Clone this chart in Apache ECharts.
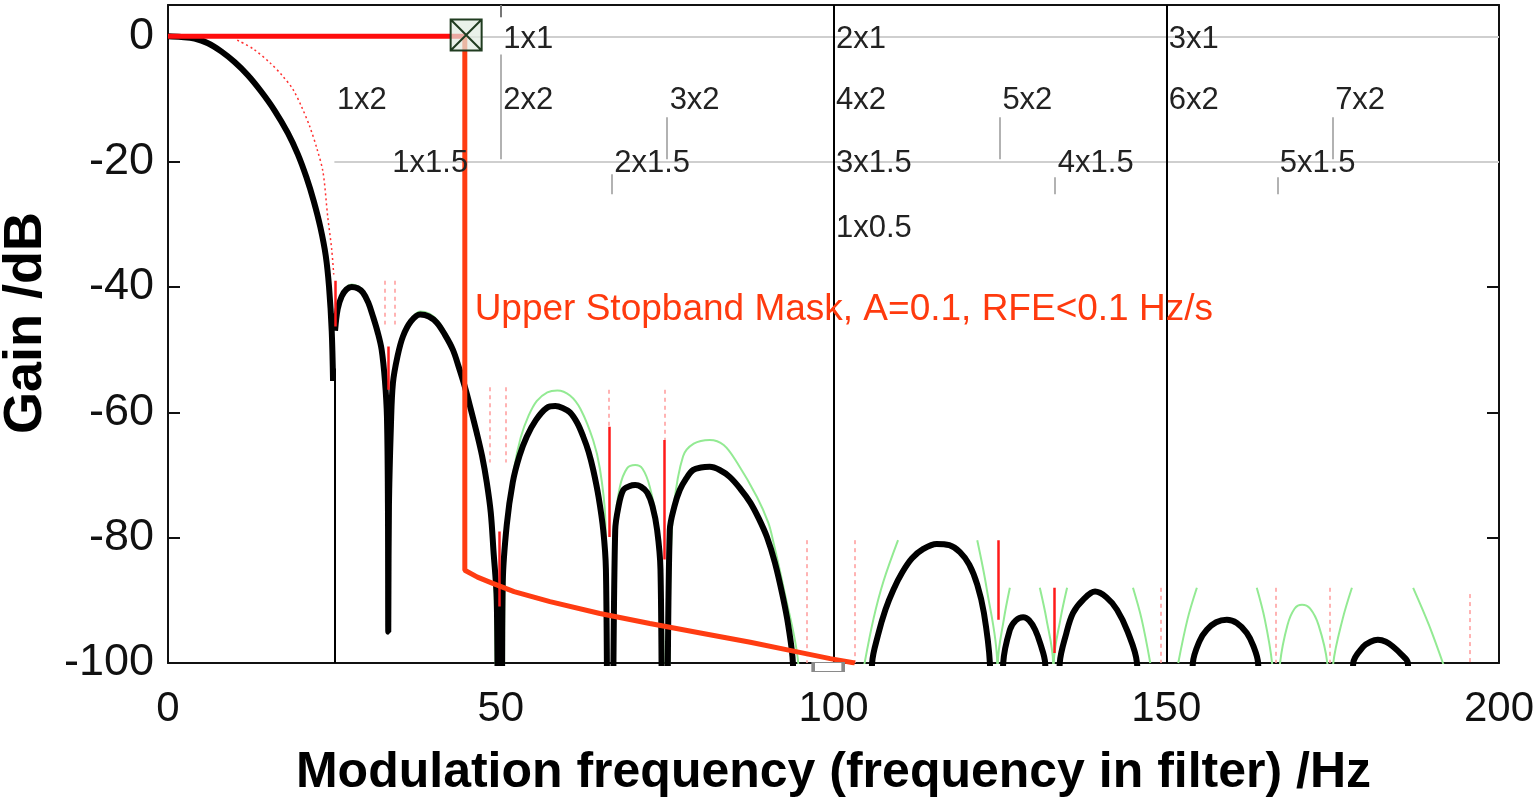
<!DOCTYPE html>
<html>
<head>
<meta charset="utf-8">
<title>Upper stopband mask</title>
<script src="https://cdn.jsdelivr.net/npm/echarts@6/dist/echarts.min.js"></script>
<style>
html, body { margin: 0; padding: 0; background: #fff; }
#chart { width: 1538px; height: 801px; }
</style>
</head>
<body>
<div id="chart"></div>
<script>
// [Hz, dB]; null = gap in the trace
const filterGain = [
  [0, 0], [2, -0.1], [4, -0.35], [6, -1.1], [8, -2.4], [10, -4.1], [12, -6.2], [14, -8.8], [16, -11.8],
  [18, -15.4], [19.5, -18.8], [20.8, -22.5], [21.9, -26.3], [22.9, -30.5], [23.7, -35], [24.2, -40],
  [24.6, -47], [24.8, -55],
  null,
  [25.1, -47], [25.5, -43.5], [26.1, -41.5], [26.8, -40.4], [27.6, -40], [28.5, -40.2], [29.3, -40.9],
  [30.1, -42.5], [30.8, -44.7], [31.5, -47.2], [32.1, -50], [32.6, -55], [32.9, -60.7], [33.05, -75],
  [33.1, -95], [33.2, -75], [33.5, -62], [33.8, -55.3], [34.5, -51], [35.3, -47.9], [36.5, -45.5],
  [37.9, -44.4], [39.2, -44.7], [40.4, -45.7], [41.6, -47.6], [42.8, -50], [43.7, -52.8], [44.6, -55.9],
  [45.5, -59.5], [46.4, -63.3], [47.2, -67], [47.9, -71.2], [48.5, -76], [48.9, -82], [49.4, -90], [49.7, -120],
  [50.1, -120], [50.3, -87.2], [50.9, -78], [51.8, -71.2], [52.8, -67], [53.9, -63.9], [55.3, -61.2],
  [56.9, -59.3], [58.2, -59], [59.3, -59.3], [60.4, -60], [61.5, -61.7], [62.4, -63.9], [63.2, -66.3],
  [63.9, -69.2], [64.7, -73.5], [65.4, -78.8], [65.8, -85], [66.2, -120],
  [66.6, -120], [67.2, -78.8], [67.7, -75], [68.4, -72.4], [69.3, -71.8], [70.2, -71.6], [71.1, -71.9],
  [72, -72.8], [72.8, -75], [73.5, -78.8], [74, -85], [74.4, -120],
  [74.8, -120], [75.4, -78.8], [76.1, -75], [76.9, -72.4], [77.9, -70.5], [78.9, -69.2], [80.1, -68.8],
  [81.4, -68.7], [82.9, -69.2], [84.4, -70.3], [86, -72.2], [87.5, -74.4], [88.8, -77], [90, -79.9],
  [91.2, -84], [92.4, -89.5], [93.2, -94], [93.9, -100], [94.3, -120],
  null,
  [105.3, -120], [105.8, -100], [106.7, -95.5], [107.8, -91.5], [109, -88.3], [110.3, -85.6], [111.8, -83.3],
  [113.5, -81.8], [115.5, -81], [117.4, -81.2], [119, -82.3], [120.4, -84.3], [121.6, -87.5], [122.6, -92],
  [123.5, -100], [124, -120],
  [125.1, -120], [125.5, -100], [126.5, -94.7], [127.4, -93.2], [128.5, -92.7], [129.4, -93.2],
  [130.3, -94.7], [131.1, -97], [131.8, -100], [132.3, -120],
  [133.5, -120], [134, -100], [135, -95.2], [136, -92], [137.6, -89.8], [139.3, -88.6], [141, -89.5],
  [142.6, -91.5], [144.2, -95], [145.6, -100], [146.2, -120],
  null,
  [153.5, -120], [154, -100], [155, -96.5], [156.1, -94.7], [157.5, -93.5], [159.1, -93.1], [160.6, -93.6],
  [162.1, -95.2], [163.1, -97.3], [163.8, -100], [164.3, -120],
  null,
  [177.6, -120], [178.1, -100], [179.6, -97.4], [180.7, -96.6], [181.8, -96.3], [183, -96.6], [184.1, -97.4],
  [185.3, -98.6], [186.3, -100], [186.8, -120]
];

// thin green trace, only the visible pieces
const modelGain = [
  [25.2, -46], [26.1, -41.1], [27.6, -39.6], [29.3, -40.5], [30.8, -44.3], [32.1, -49.6], [32.9, -60],
  null,
  [33.9, -54.8], [35.3, -47.5], [36.5, -45.1], [37.9, -43.9], [39.2, -44.2], [40.4, -45.2], [41.6, -47.1],
  [42.8, -49.5], [43.7, -52.3], [44.6, -55.5], [45.5, -59], [46.4, -62.9], [47.9, -70.8], [48.9, -81.5], [49.6, -110],
  [50.4, -110], [50.6, -85], [51.2, -76], [52, -69], [53, -64], [54.2, -60.5], [55.4, -58.2], [57, -56.8],
  [58.5, -56.5], [60.4, -57.3], [62, -59.5], [63.9, -64.5], [64.9, -69], [65.7, -76.7], [66.3, -110],
  [66.9, -110], [67.2, -78], [67.9, -71.9], [69, -68.9], [70.2, -68.4], [71.3, -69], [72.4, -71.9],
  [73.5, -78], [74.3, -90], [74.7, -110],
  [75.2, -110], [75.5, -85], [76, -75], [77.4, -67], [79, -65], [81.4, -64.4], [83.5, -65.2], [85.5, -68],
  [88.5, -73.5], [90.2, -77.6], [90.9, -80.4], [92.5, -88], [94.7, -100], [95, -110],
  null,
  [104.5, -101], [106, -93], [107.5, -87], [109.7, -80.4],
  null,
  [121.6, -80.4], [123, -88], [124.6, -100], [124.65, -110], [124.7, -100], [125.6, -93], [126.5, -88],
  null,
  [131, -88], [132, -93], [133, -100], [133.05, -110], [133.1, -100], [134.1, -93], [135.1, -88],
  null,
  [145, -88], [146.3, -93], [147.6, -100],
  null,
  [151.8, -100], [153.2, -93], [154.6, -88],
  null,
  [163.6, -88], [164.8, -93], [165.9, -100], [166.5, -110], [167.1, -100], [168.2, -94], [169.3, -91.3],
  [170.4, -90.7], [171.6, -91.3], [172.9, -94], [174.2, -100], [174.65, -110], [175.1, -100], [176.5, -93], [177.9, -88],
  null,
  [187.1, -88], [189.5, -94], [191.9, -101]
];

// red dotted trace beside the main lobe
const mainLobeRed = [
  [10.4, -0.6], [12.8, -2], [15.3, -4.2], [17.2, -6.3], [18.8, -8.5], [20.1, -11.3], [21.3, -14.4],
  [22.4, -18], [23.3, -21.7], [24, -28.8], [24.6, -34], [24.9, -38]
];

// upper stopband mask
const maskPass = [[0, 0], [44.6, 0]];
const maskStop = [
  [44.6, 0], [44.6, -85.2], [46.5, -86.3], [48.8, -87.3], [52, -88.6], [57.4, -90.2], [64.9, -92.1],
  [72.4, -93.7], [80, -95.2], [87.5, -96.7], [94, -98.1], [99.5, -99.3], [103.2, -100]
];
const maskNote = 'Upper Stopband Mask, A=0.1, RFE<0.1 Hz/s';
const maskNoteAt = [46, -43.6];
const maskCorner = [44.8, 0.2];
const floorMark = [99.2, -100];

// vertical spikes at the nulls: [Hz, top dB, bottom dB]
const nullSpikes = [
  [25.15, -39, -46.3], [33.1, -49.5, -56.4], [49.8, -79, -91], [66.3, -62.3, -79.9],
  [74.6, -64.4, -83.5], [124.8, -80.4, -93.1], [133.1, -88, -98.4]
];
const faintSpikes = [
  [32.5, -39, -46], [34, -39, -46], [48.3, -56, -68], [50.8, -56, -68], [66.3, -56.4, -62.3],
  [74.6, -56.4, -64.4], [96, -80.4, -100], [103.2, -80.4, -100], [149.2, -88, -100],
  [166.4, -88, -100], [174.6, -88, -100], [195.6, -89, -100]
];
const dividers = [[25, -53, -100], [100, 5, -100], [150, 5, -100]];

// harmonic annotations
const refLevels = [0, -20];
const refFrom = 25;
const stemTicks = [
  [50, 5, 3], [50, -2.9, -19.6], [75, -12.9, -19.6], [125, -12.9, -19.6], [175, -12.9, -19.6],
  [66.7, -22, -25.2], [133.3, -22.5, -25.2], [166.7, -22.5, -25.2]
];
const annotText = ['1x1', '2x1', '3x1', '1x2', '2x2', '3x2', '4x2', '5x2', '6x2', '7x2',
  '1x1.5', '2x1.5', '3x1.5', '4x1.5', '5x1.5', '1x0.5'];
const annotFreq = [50, 100, 150, 25, 50, 75, 100, 125, 150, 175,
  33.33, 66.67, 100, 133.33, 166.67, 100];
const annotLevel = [-0.5, -0.5, -0.5, -10.2, -10.2, -10.2, -10.2, -10.2, -10.2, -10.2,
  -20.3, -20.3, -20.3, -20.3, -20.3, -30.7];

const FONT = '"Liberation Sans", Arial, Helvetica, sans-serif';
const gap = p => p || ['-', '-'];
const vseg = s => ({ coords: [[s[0], s[1]], [s[0], s[2]]] });

const frameAxis = {
  axisLine: { show: true, onZero: false, lineStyle: { color: '#111', width: 2 } },
  axisTick: { show: true, inside: true, length: 12, lineStyle: { color: '#111', width: 2 } },
  splitLine: { show: false }
};

const chart = echarts.init(document.getElementById('chart'), null, { renderer: 'canvas' });

chart.setOption({
  animation: false,
  backgroundColor: '#fff',
  grid: { left: 168, right: 39, top: 5, bottom: 138, containLabel: false, outerBoundsMode: 'none' },
  xAxis: [
    {
      type: 'value', min: 0, max: 200, interval: 50, position: 'bottom', ...frameAxis,
      axisLabel: { fontSize: 42, color: '#111', margin: 25, fontFamily: FONT },
      name: 'Modulation frequency (frequency in filter) /Hz',
      nameLocation: 'middle', nameGap: 85,
      nameTextStyle: { fontSize: 50, fontWeight: 'bold', color: '#000', fontFamily: FONT }
    },
    {
      type: 'value', min: 0, max: 200, interval: 50, position: 'top', ...frameAxis,
      axisLabel: { show: false }
    }
  ],
  yAxis: [
    {
      type: 'value', min: -100, max: 5, interval: 20, position: 'left', ...frameAxis,
      axisLabel: { fontSize: 45, color: '#111', margin: 14, fontFamily: FONT, showMaxLabel: false },
      name: 'Gain /dB', nameLocation: 'middle', nameGap: 110,
      nameTextStyle: {
        fontSize: 54, fontWeight: 'bold', color: '#000', fontFamily: FONT, padding: [0, 0, 0, 22]
      }
    },
    {
      type: 'value', min: -100, max: 5, interval: 20, position: 'right', ...frameAxis,
      axisLabel: { show: false }
    }
  ],
  series: [
    {
      type: 'lines', coordinateSystem: 'cartesian2d', silent: true, z: 1,
      lineStyle: { color: '#cfcfcf', width: 2, opacity: 1 },
      data: refLevels.map(v => ({ coords: [[refFrom, v], [200, v]] }))
    },
    {
      type: 'lines', coordinateSystem: 'cartesian2d', silent: true, z: 1,
      lineStyle: { color: '#999', width: 1.5, opacity: 1 },
      data: stemTicks.map(vseg)
    },
    {
      type: 'lines', coordinateSystem: 'cartesian2d', silent: true, z: 2,
      lineStyle: { color: '#ff9a9a', width: 1.5, opacity: 1, type: [4, 4] },
      data: faintSpikes.map(vseg)
    },
    {
      type: 'line', data: modelGain.map(gap), symbol: 'none', z: 3,
      smooth: 0.35, connectNulls: false,
      lineStyle: { color: '#93ea93', width: 2 }
    },
    {
      type: 'line', data: mainLobeRed, symbol: 'none', z: 3, smooth: 0.3,
      lineStyle: { color: '#ff3030', width: 1.5, type: [2, 3] }
    },
    {
      type: 'lines', coordinateSystem: 'cartesian2d', silent: true, z: 4,
      lineStyle: { color: '#000', width: 2, opacity: 1 },
      data: dividers.map(vseg)
    },
    {
      type: 'line', data: filterGain.map(gap), symbol: 'none', z: 5,
      smooth: 0.35, connectNulls: false,
      lineStyle: { color: '#000', width: 6 }
    },
    {
      type: 'lines', coordinateSystem: 'cartesian2d', silent: true, z: 6,
      lineStyle: { color: '#ff1a1a', width: 2.5, opacity: 1 },
      data: nullSpikes.map(vseg)
    },
    {
      type: 'line', data: maskPass, symbol: 'none', z: 7,
      lineStyle: { color: '#ff0d0d', width: 5 }
    },
    {
      type: 'line', data: maskStop, symbol: 'none', z: 7,
      lineStyle: { color: '#ff3c12', width: 5 }
    },
    {
      type: 'scatter', z: 8, silent: true,
      data: [maskCorner],
      symbol: 'path://M0,0L10,0L10,10L0,10ZM0,0L10,10M10,0L0,10', symbolSize: 31,
      itemStyle: { color: 'rgba(225,235,225,0.7)', borderColor: '#203c20', borderWidth: 2, opacity: 1 }
    },
    {
      type: 'scatter', z: 8, silent: true,
      data: [floorMark], symbol: 'rect', symbolSize: [30, 9], symbolOffset: [0, 4],
      itemStyle: { color: '#fff', borderColor: '#8a8a8a', borderWidth: 2, opacity: 1 }
    },
    {
      type: 'scatter', z: 9, silent: true, symbolSize: 1,
      itemStyle: { color: 'rgba(0,0,0,0)', opacity: 1 },
      data: annotText.map((t, i) => ({ name: t, value: [annotFreq[i], annotLevel[i]] })),
      label: {
        show: true, position: 'right', distance: 2, formatter: '{b}',
        fontSize: 31, color: '#222', fontFamily: FONT
      }
    },
    {
      type: 'scatter', z: 9, silent: true, symbolSize: 1,
      itemStyle: { color: 'rgba(0,0,0,0)', opacity: 1 },
      data: [{ name: maskNote, value: maskNoteAt }],
      label: {
        show: true, position: 'right', distance: 0, formatter: '{b}',
        fontSize: 37, color: '#ff3a0e', fontFamily: FONT
      }
    }
  ]
});

window.addEventListener('resize', () => chart.resize());
</script>
</body>
</html>
